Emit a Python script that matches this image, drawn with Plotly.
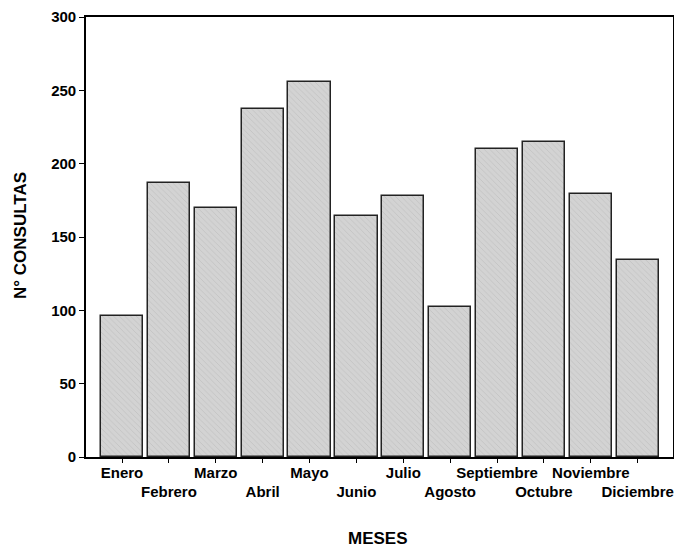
import plotly.graph_objects as go

months = ["Enero", "Febrero", "Marzo", "Abril", "Mayo", "Junio", "Julio",
          "Agosto", "Septiembre", "Octubre", "Noviembre", "Diciembre"]
consultas = [96, 187, 170, 237, 256, 164, 178, 102, 210, 215, 179, 134]
y_ticks = [0, 50, 100, 150, 200, 250, 300]

x_pos = list(range(len(months)))
tick_text = [m if i % 2 == 0 else "<br>" + m for i, m in enumerate(months)]

FONT = "Liberation Sans, Arial, sans-serif"
W, H = 674, 547
L, R, T, B = 86, 1, 17, 90

fig = go.Figure()
fig.add_trace(go.Bar(
    x=x_pos, y=consultas, width=0.9,
    marker=dict(
        color="#cdcdcd",
        line=dict(color="#222222", width=1.5),
        pattern=dict(shape="\\", size=4, solidity=0.2,
                     fgcolor="#aeaeae", bgcolor="#d3d3d3"),
    ),
    hoverinfo="skip",
))

fig.update_layout(
    width=W, height=H,
    margin=dict(l=L, r=R, t=T, b=B, autoexpand=False),
    plot_bgcolor="white", paper_bgcolor="white",
    showlegend=False,
    font=dict(family=FONT, size=15, color="black"),
    bargap=0,
)
fig.update_xaxes(
    range=[-0.768, 11.753], automargin=False, tickangle=0,
    tickmode="array", tickvals=x_pos, ticktext=tick_text,
    ticks="outside", ticklen=4, tickwidth=1.2, tickcolor="black",
    ticklabelstandoff=-3,
    showline=True, linecolor="black", linewidth=1.6, mirror=True,
    showgrid=False, zeroline=False,
    tickfont=dict(family=FONT, size=15, color="black", weight="bold"),
)
fig.update_yaxes(
    range=[0, 300], automargin=False,
    tickmode="array", tickvals=y_ticks,
    ticks="outside", ticklen=5, tickwidth=1.2, tickcolor="black",
    showline=True, linecolor="black", linewidth=1.6, mirror=True,
    showgrid=False, zeroline=False,
    tickfont=dict(family=FONT, size=15, color="black", weight="bold"),
)

pw = W - L - R
ph = H - T - B
fig.add_annotation(
    text="<b>MESES</b>", xref="paper", yref="paper",
    x=(378 - L) / pw, y=-(538 - (H - B)) / ph,
    xanchor="center", yanchor="middle", showarrow=False,
    font=dict(family=FONT, size=17, color="black"),
)
fig.add_annotation(
    text="<b>N° CONSULTAS</b>", xref="paper", yref="paper",
    x=-(L - 21) / pw, y=((H - B) - 236) / ph, textangle=-90,
    xanchor="center", yanchor="middle", showarrow=False,
    font=dict(family=FONT, size=17, color="black"),
)

fig.write_html(
    "out.html",
    config={"displayModeBar": False},
    post_script="document.body.style.margin='0';document.body.style.overflow='hidden';",
)
